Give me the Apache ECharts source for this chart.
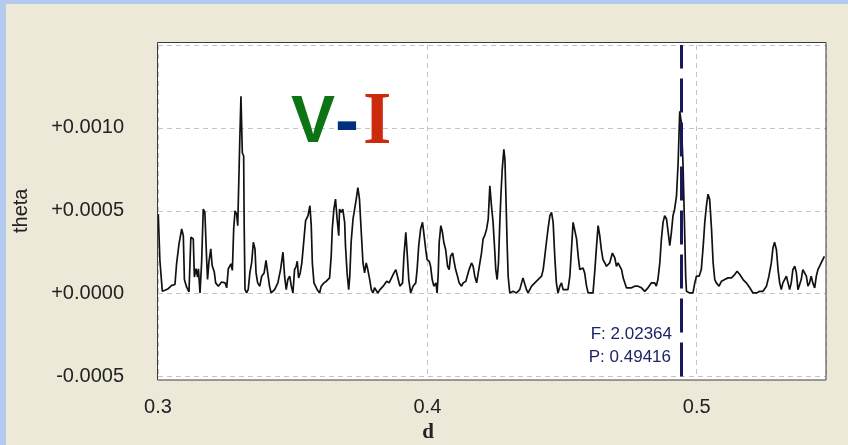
<!DOCTYPE html>
<html><head><meta charset="utf-8">
<script src="https://cdn.jsdelivr.net/npm/echarts@6/dist/echarts.min.js"></script>
<style>html,body{margin:0;padding:0;background:#ECE9D8;}#c{width:848px;height:445px;}</style>
</head><body><div id="c"></div>
<script>
// frequency-like axis "d"
const dValues = [
0.3001,0.3007,0.3016,0.3026,0.3038,0.3051,0.3063,0.3069,0.3078,0.3088,0.3094,0.3098,0.3106,0.3115,0.3122,0.3131,0.3135,0.3141,0.3147,0.3150,
0.3156,0.3162,0.3168,0.3174,0.3181,0.3184,0.3189,0.3196,0.3201,0.3209,0.3214,0.3224,0.3236,0.3249,0.3255,0.3261,0.3271,0.3276,0.3281,0.3286,
0.3292,0.3296,0.3301,0.3304,0.3308,0.3313,0.3318,0.3320,0.3323,0.3329,0.3335,0.3341,0.3348,0.3354,0.3360,0.3364,0.3370,0.3378,0.3385,0.3394,
0.3401,0.3407,0.3414,0.3420,0.3433,0.3445,0.3455,0.3464,0.3470,0.3476,0.3482,0.3489,0.3495,0.3501,0.3507,0.3513,0.3517,0.3522,0.3528,0.3534,
0.3542,0.3548,0.3557,0.3564,0.3569,0.3573,0.3579,0.3585,0.3591,0.3600,0.3606,0.3616,0.3625,0.3637,0.3643,0.3647,0.3653,0.3659,0.3665,0.3671,
0.3674,0.3680,0.3686,0.3693,0.3696,0.3702,0.3708,0.3712,0.3717,0.3724,0.3730,0.3736,0.3742,0.3748,0.3754,0.3761,0.3767,0.3773,0.3779,0.3786,
0.3792,0.3798,0.3804,0.3810,0.3816,0.3824,0.3836,0.3849,0.3858,0.3867,0.3876,0.3883,0.3892,0.3898,0.3908,0.3913,0.3920,0.3925,0.3931,0.3938,
0.3947,0.3957,0.3962,0.3968,0.3975,0.3982,0.3988,0.3994,0.3999,0.4007,0.4012,0.4018,0.4024,0.4032,0.4036,0.4040,0.4044,0.4050,0.4056,0.4061,
0.4068,0.4075,0.4081,0.4086,0.4094,0.4098,0.4105,0.4112,0.4118,0.4127,0.4133,0.4143,0.4148,0.4155,0.4164,0.4170,0.4176,0.4183,0.4189,0.4195,
0.4201,0.4207,0.4213,0.4220,0.4226,0.4232,0.4238,0.4244,0.4250,0.4254,0.4259,0.4264,0.4269,0.4273,0.4278,0.4284,0.4288,0.4291,0.4296,0.4300,
0.4306,0.4318,0.4331,0.4343,0.4355,0.4362,0.4368,0.4374,0.4387,0.4399,0.4411,0.4424,0.4430,0.4436,0.4442,0.4448,0.4455,0.4461,0.4467,0.4473,
0.4479,0.4485,0.4492,0.4498,0.4504,0.4510,0.4522,0.4529,0.4535,0.4541,0.4547,0.4554,0.4560,0.4566,0.4572,0.4578,0.4584,0.4591,0.4597,0.4615,
0.4622,0.4628,0.4634,0.4640,0.4646,0.4652,0.4659,0.4665,0.4671,0.4677,0.4687,0.4696,0.4702,0.4708,0.4714,0.4721,0.4727,0.4733,0.4739,0.4745,
0.4758,0.4770,0.4782,0.4795,0.4807,0.4819,0.4832,0.4844,0.4850,0.4856,0.4863,0.4869,0.4875,0.4881,0.4888,0.4894,0.4900,0.4906,0.4912,0.4918,
0.4925,0.4931,0.4937,0.4943,0.4949,0.4955,0.4959,0.4962,0.4974,0.4986,0.4993,0.4999,0.5009,0.5017,0.5024,0.5030,0.5036,0.5042,0.5048,0.5055,
0.5061,0.5067,0.5073,0.5083,0.5092,0.5104,0.5116,0.5129,0.5141,0.5150,0.5160,0.5172,0.5184,0.5197,0.5209,0.5222,0.5234,0.5246,0.5259,0.5268,
0.5277,0.5283,0.5289,0.5296,0.5302,0.5308,0.5314,0.5320,0.5327,0.5333,0.5339,0.5345,0.5351,0.5357,0.5364,0.5370,0.5376,0.5382,0.5388,0.5394,
0.5401,0.5407,0.5413,0.5419,0.5425,0.5431,0.5438,0.5444,0.5450,0.5456,0.5462,0.5468,0.5474
];
// theta statistic
const thetaValues = [
0.00048,0.00020,0.000014,0.00002,0.00003,0.00005,0.000055,0.00018,0.00030,0.00039,0.00035,0.000085,0.00004,0.00001,0.00034,0.00033,0.00010,0.00015,0.00010,0.00015,
0.000004,0.00019,0.00051,0.00049,0.00019,0.000085,0.00019,0.00027,0.00017,0.00013,0.000065,0.000045,0.00007,0.000065,0.000035,0.00015,0.00018,0.00014,0.00039,0.00050,
0.00048,0.00041,0.00040,0.00095,0.00119,0.00085,0.00083,0.00041,0.000025,0.000005,0.000025,0.000125,0.00019,0.00031,0.00027,0.000125,0.000065,0.000045,0.000105,0.000125,
0.00020,0.00020,0.000045,0.000004,0.000024,0.000065,0.000145,0.00025,0.000105,0.000024,0.000085,0.000105,0.000045,0.000004,0.000145,0.000165,0.000195,0.000095,0.000125,0.000185,
0.00033,0.00044,0.00047,0.00053,0.00041,0.000185,0.000065,0.000055,0.000024,0.000004,0.000045,0.000065,0.000075,0.000095,0.000225,0.00039,0.00051,0.00057,0.00045,0.00035,
0.00051,0.00049,0.00051,0.00043,0.00029,0.000125,0.000024,0.000105,0.00031,0.00045,0.00051,0.00057,0.00064,0.00057,0.00039,0.000185,0.000125,0.000185,0.000145,0.000085,
0.000024,0.000004,0.000035,0.000024,0.000004,0.000024,0.000045,0.000075,0.000065,0.000095,0.000125,0.000145,0.000085,0.000045,0.000065,0.000225,0.00037,0.000245,0.000085,0.000004,
0.000045,0.000065,0.000145,0.00029,0.00039,0.00043,0.00035,0.000265,0.000205,0.000195,0.000165,0.000085,0.000045,0.000065,0.000004,0.000105,0.00031,0.00041,0.00037,0.00031,
0.000265,0.000165,0.000145,0.000225,0.000245,0.000205,0.000145,0.000105,0.000065,0.000045,0.000065,0.000075,0.000105,0.000145,0.000185,0.000165,0.000105,0.000065,0.000125,0.000185,
0.000245,0.00033,0.00035,0.00039,0.00045,0.00065,0.00053,0.00043,0.000265,0.000145,0.000085,0.000185,0.00043,0.00059,0.00075,0.00087,0.00081,0.00063,0.00031,0.000105,
0.000004,0.000014,0.000004,0.000024,0.000095,0.000105,0.000024,0.000004,0.000045,0.000065,0.000085,0.000105,0.000145,0.000225,0.00031,0.00039,0.00047,0.00049,0.00043,0.000225,
0.000065,0.000004,0.000045,0.000065,0.000024,0.000014,0.000024,0.000105,0.000265,0.00043,0.00044,0.00033,0.000225,0.000145,0.000145,0.000155,0.000125,0.000045,0.000004,0.000004,
0.000145,0.000285,0.00041,0.00035,0.000265,0.000205,0.000185,0.000165,0.000155,0.000185,0.000245,0.000215,0.000165,0.000185,0.000195,0.000145,0.000095,0.000065,0.000035,0.000024,
0.000035,0.000045,0.000045,0.000035,0.000014,0.000035,0.000065,0.000065,0.000045,0.000085,0.000185,0.00033,0.00043,0.00047,0.00045,0.00037,0.00029,0.00037,0.00047,0.00051,
0.00059,0.00079,0.00110,0.00103,0.00079,0.00039,0.000105,0.000014,0.000004,0.000004,0.000065,0.000105,0.000105,0.000145,0.000285,0.00043,0.00053,0.00060,0.00057,0.00039,
0.000185,0.000085,0.000065,0.000045,0.000075,0.000085,0.000095,0.000095,0.000115,0.000135,0.000115,0.000085,0.000065,0.000035,0.000004,0.000004,0.000014,0.000014,0.000045,0.000105,
0.000185,0.000275,0.00031,0.000265,0.000145,0.000065,0.000024,0.000065,0.000065,0.000105,0.000065,0.000024,0.000065,0.000145,0.000165,0.000125,0.000024,0.000014,0.000085,0.000145,
0.000145,0.000105,0.000045,0.000065,0.000105,0.000065,0.000035,0.000105,0.000145,0.000165,0.000185,0.000205,0.000225
];
const xTickValues = [0.3, 0.4, 0.5];
const yTickValues = [-0.0005, 0.0000, 0.0005, 0.0010];
const bestFrequency = 2.02364;
const bestPeriod = 0.49416;
const titleParts = ['V', '-', 'I'];

const chart = echarts.init(document.getElementById('c'), null, {renderer: 'canvas'});
const seriesData = dValues.map((d, i) => [d, thetaValues[i]]);
const isTick = (v, arr) => arr.some(t => Math.abs(t - v) < 1e-9);

const gridLine = {show: true, lineStyle: {color: '#c4c4c4', width: 1, type: [5, 4]}};

chart.setOption({
  animation: false,
  backgroundColor: '#ECE9D8',
  title: {
    left: 286, top: 86,
    text: '{v|' + titleParts[0] + '}{h|' + titleParts[1] + '}{i|' + titleParts[2] + '}',
    textStyle: {
      rich: {
        v: {fontFamily: 'Liberation Sans', fontWeight: 'bold', fontSize: 66, color: '#0c7412', lineHeight: 66},
        h: {fontFamily: 'Liberation Sans', fontWeight: 'bold', fontSize: 72, color: '#00307e', lineHeight: 66},
        i: {fontFamily: 'Liberation Serif', fontWeight: 'bold', fontSize: 73, color: '#cc2a0c', lineHeight: 66, padding: [0, 0, 0, 4]}
      }
    }
  },
  grid: {left: 158, right: 22, top: 45, bottom: 68.5, containLabel: false, outerBoundsMode: 'none'},
  xAxis: {
    type: 'value', min: 0.3, max: 0.548, interval: 0.1,
    name: 'd', nameLocation: 'middle', nameGap: 46,
    nameTextStyle: {fontFamily: 'Liberation Serif', fontSize: 21, fontWeight: 'bold', color: '#222', padding: [0, 128, 0, 0]},
    axisLine: {show: false}, axisTick: {show: false},
    axisLabel: {
      showMaxLabel: false, margin: 21,
      fontFamily: 'Liberation Sans', fontSize: 20, color: '#222',
      formatter: v => isTick(v, xTickValues) ? v.toFixed(1) : ''
    },
    splitLine: gridLine
  },
  yAxis: {
    type: 'value', min: -0.0005, max: 0.0015, interval: 0.0005,
    name: 'theta', nameLocation: 'middle', nameGap: 127, nameRotate: 90,
    nameTextStyle: {fontFamily: 'Liberation Sans', fontSize: 20, color: '#222'},
    axisLine: {show: false}, axisTick: {show: false},
    axisLabel: {
      margin: 34, fontFamily: 'Liberation Sans', fontSize: 20, color: '#222',
      formatter: v => {
        if (!isTick(v, yTickValues)) return '';
        const s = Math.abs(v).toFixed(4);
        return (v < -1e-12 ? '-' : '+') + s;
      }
    },
    splitLine: gridLine
  },
  graphic: [
    {type: 'rect', z: -10, shape: {x: 158, y: 42, width: 668, height: 338}, style: {fill: '#ffffff'}},
    {type: 'rect', z: 100, shape: {x: 157.5, y: 42.5, width: 668.5, height: 337.5}, style: {fill: 'none', stroke: '#3c3c3c', lineWidth: 1}},
    {type: 'rect', z: 100, shape: {x: 0, y: 0, width: 6, height: 445}, style: {fill: '#b4c9ee'}},
    {type: 'rect', z: 100, shape: {x: 0, y: 0, width: 848, height: 4}, style: {fill: '#b4c9ee'}},
    {type: 'text', z: 100, x: 672, y: 334, style: {text: 'F: ' + bestFrequency.toFixed(5), textAlign: 'right', textVerticalAlign: 'middle', font: '17px "Liberation Sans"', fill: '#1d2466'}},
    {type: 'text', z: 100, x: 671, y: 357, style: {text: 'P: ' + bestPeriod.toFixed(5), textAlign: 'right', textVerticalAlign: 'middle', font: '17px "Liberation Sans"', fill: '#1d2466'}}
  ],
  series: [{
    type: 'line',
    data: seriesData,
    showSymbol: false,
    symbol: 'none',
    lineStyle: {color: '#111111', width: 1.7},
    z: 3,
    markLine: {
      silent: true, symbol: 'none',
      label: {show: false},
      lineStyle: {color: '#151a5c', width: 3, type: [34, 10]},
      data: [[{coord: [bestPeriod, -0.0005]}, {coord: [bestPeriod, 0.0015]}]]
    }
  }]
});
</script></body></html>
